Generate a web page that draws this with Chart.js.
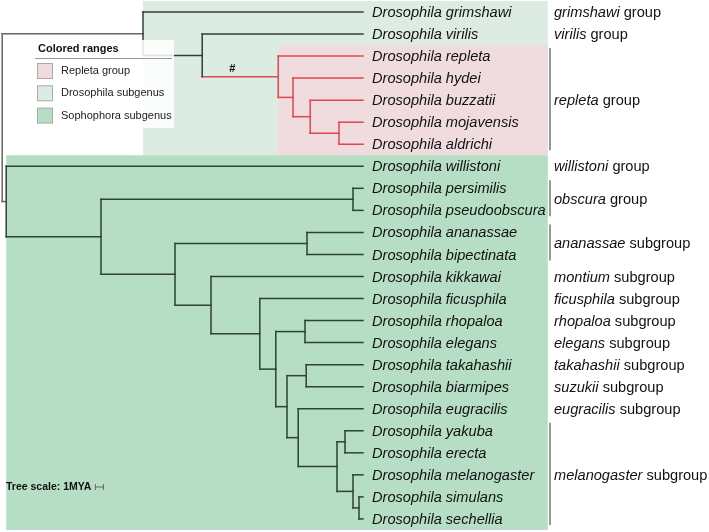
<!DOCTYPE html>
<html>
<head>
<meta charset="utf-8">
<script src="https://cdn.jsdelivr.net/npm/chart.js@4.4.0/dist/chart.umd.min.js"></script>
<style>
  body { margin: 0; background: #fff; }
  canvas { display: block; }
</style>
</head>
<body>
<canvas id="tree" width="709" height="532"></canvas>
<script>
// leaves, top to bottom (leaf i sits at row i)
const species = [
  'Drosophila grimshawi', 'Drosophila virilis', 'Drosophila repleta', 'Drosophila hydei',
  'Drosophila buzzatii', 'Drosophila mojavensis', 'Drosophila aldrichi', 'Drosophila willistoni',
  'Drosophila persimilis', 'Drosophila pseudoobscura', 'Drosophila ananassae', 'Drosophila bipectinata',
  'Drosophila kikkawai', 'Drosophila ficusphila', 'Drosophila rhopaloa', 'Drosophila elegans',
  'Drosophila takahashii', 'Drosophila biarmipes', 'Drosophila eugracilis', 'Drosophila yakuba',
  'Drosophila erecta', 'Drosophila melanogaster', 'Drosophila simulans', 'Drosophila sechellia'
];

// internal nodes get ids 24, 25, ... in this order (children always listed before parents)
const nodeChildren = [
  [22, 23], [21, 24], [19, 20], [26, 25], [18, 27], [16, 17], [29, 28], [14, 15],
  [31, 30], [13, 32], [12, 33], [10, 11], [35, 34], [8, 9], [37, 36], [7, 38],
  [5, 6], [4, 40], [3, 41], [2, 42], [1, 43], [0, 44], [45, 39]
];
// node ages, million years ago
const nodeAges = [
  0.5, 1.25, 2.25, 3.25, 8.1, 7.1, 9.5, 7.25,
  10.9, 12.9, 19.0, 7.0, 23.5, 1.25, 32.75, 44.6,
  3.0, 6.6, 8.75, 10.6, 20.1, 27.5, 45.1
];
const rootNode = 46;
const redNode = 43; // repleta clade branches in red

// colored ranges
const rangeNames = ['Repleta group', 'Drosophila subgenus', 'Sophophora subgenus'];
const rangeColors = ['#f0dcde', '#dcece2', '#b5dec4'];
const rangeNodes = [43, 45, 39];
const rangeDrawOrder = [1, 0, 2];

// group labels on the right
const groupNames = ['grimshawi', 'virilis', 'repleta', 'willistoni', 'obscura', 'ananassae', 'montium',
  'ficusphila', 'rhopaloa', 'elegans', 'takahashii', 'suzukii', 'eugracilis', 'melanogaster'];
const groupRanks = ['group', 'group', 'group', 'group', 'group', 'subgroup', 'subgroup',
  'subgroup', 'subgroup', 'subgroup', 'subgroup', 'subgroup', 'subgroup', 'subgroup'];
const groupFirst = [0, 1, 2, 7, 8, 10, 12, 13, 14, 15, 16, 17, 18, 19];
const groupLast = [0, 1, 6, 7, 9, 11, 12, 13, 14, 15, 16, 17, 18, 23];

const scaleLabel = 'Tree scale: 1MYA';

// ---- derive node positions ----
const nLeaves = species.length;
const age = [], row = [], firstLeaf = [], lastLeaf = [];
for (let i = 0; i < nLeaves; i++) { age[i] = 0; row[i] = i; firstLeaf[i] = i; lastLeaf[i] = i; }
nodeChildren.forEach((kids, k) => {
  const id = nLeaves + k;
  age[id] = nodeAges[k];
  row[id] = (row[kids[0]] + row[kids[kids.length - 1]]) / 2;
  firstLeaf[id] = firstLeaf[kids[0]];
  lastLeaf[id] = lastLeaf[kids[kids.length - 1]];
});

const isRed = (id) => firstLeaf[id] >= firstLeaf[redNode] && lastLeaf[id] <= lastLeaf[redNode] && id <= redNode;

const DARK = '#2f4235', RED = '#e0474c', GREY = '#666';

const datasets = [];
const seg = (x1, y1, x2, y2, color) => datasets.push({
  data: [{ x: x1, y: y1 }, { x: x2, y: y2 }],
  showLine: true, borderColor: color, borderWidth: 1.5, pointRadius: 0,
  borderCapStyle: 'square'
});

nodeChildren.forEach((kids, k) => {
  const id = nLeaves + k;
  const vColor = id === rootNode ? GREY : (isRed(id) ? RED : DARK);
  seg(age[id], row[kids[0]], age[id], row[kids[kids.length - 1]], vColor);
  kids.forEach(c => {
    const hColor = id === rootNode ? GREY : (isRed(c) ? RED : DARK);
    seg(age[id], row[c], age[c], row[c], hColor);
  });
});

const RANGE_END = -23.1; // right edge of the shaded ranges, in MYA units
const FONT = '"Liberation Sans", Arial, sans-serif';

const treePlugin = {
  id: 'treeDecor',
  beforeDatasetsDraw(chart) {
    const { ctx } = chart;
    const xs = chart.scales.x, ys = chart.scales.y;
    rangeDrawOrder.forEach(r => {
      const n = rangeNodes[r];
      const x1 = xs.getPixelForValue(age[n]);
      const x2 = xs.getPixelForValue(RANGE_END);
      const y1 = ys.getPixelForValue(firstLeaf[n] - 0.5);
      const y2 = ys.getPixelForValue(lastLeaf[n] + 0.5);
      ctx.fillStyle = rangeColors[r];
      ctx.fillRect(x1, y1, x2 - x1, y2 - y1);
    });
  },
  afterDatasetsDraw(chart) {
    const { ctx } = chart;
    const xs = chart.scales.x, ys = chart.scales.y;
    const tipX = xs.getPixelForValue(0);
    ctx.save();
    ctx.textBaseline = 'middle';

    // species names
    ctx.fillStyle = '#111';
    ctx.font = 'italic 14.6px ' + FONT;
    species.forEach((s, i) => ctx.fillText(s, tipX + 9, ys.getPixelForValue(i) + 1));

    // group labels and brackets
    const gx = tipX + 191;
    groupNames.forEach((g, i) => {
      const y = ys.getPixelForValue((groupFirst[i] + groupLast[i]) / 2) + 1;
      ctx.fillStyle = '#111';
      ctx.font = 'italic 14.6px ' + FONT;
      ctx.fillText(g, gx, y);
      const w = ctx.measureText(g + ' ').width;
      ctx.font = '14.6px ' + FONT;
      ctx.fillText(groupRanks[i], gx + w, y);
      if (groupLast[i] > groupFirst[i]) {
        ctx.strokeStyle = '#777';
        ctx.lineWidth = 1.5;
        ctx.beginPath();
        ctx.moveTo(gx - 4, ys.getPixelForValue(groupFirst[i]) - 8);
        ctx.lineTo(gx - 4, ys.getPixelForValue(groupLast[i]) + 6);
        ctx.stroke();
      }
    });

    // '#' mark on the repleta stem
    ctx.fillStyle = '#111';
    ctx.font = 'bold 11px ' + FONT;
    ctx.fillText('#', xs.getPixelForValue(age[44]) + 27, ys.getPixelForValue(row[redNode]) - 8);

    // tree scale
    ctx.font = 'bold 10.5px ' + FONT;
    const sy = 487;
    ctx.fillText(scaleLabel, 6, sy);
    const sx = 6 + ctx.measureText(scaleLabel).width + 4;
    const len = xs.getPixelForValue(0) - xs.getPixelForValue(1);
    ctx.strokeStyle = '#666';
    ctx.lineWidth = 1;
    ctx.beginPath();
    ctx.moveTo(sx, sy); ctx.lineTo(sx + len, sy);
    ctx.moveTo(sx, sy - 3); ctx.lineTo(sx, sy + 3);
    ctx.moveTo(sx + len, sy - 3); ctx.lineTo(sx + len, sy + 3);
    ctx.stroke();

    // legend box
    ctx.fillStyle = 'rgba(255,255,255,0.86)';
    ctx.fillRect(33, 40, 141, 88);
    ctx.fillStyle = '#111';
    ctx.font = 'bold 11px ' + FONT;
    ctx.fillText('Colored ranges', 38, 49);
    ctx.strokeStyle = '#999';
    ctx.beginPath();
    ctx.moveTo(35, 58.5); ctx.lineTo(172, 58.5);
    ctx.stroke();
    ctx.font = '11px ' + FONT;
    rangeNames.forEach((name, i) => {
      const cy = 71 + i * 22.3;
      ctx.fillStyle = rangeColors[i];
      ctx.fillRect(37.5, cy - 7.5, 15, 15);
      ctx.strokeStyle = '#aaa';
      ctx.strokeRect(37.5, cy - 7.5, 15, 15);
      ctx.fillStyle = '#222';
      ctx.fillText(name, 61, cy);
    });
    ctx.restore();
  }
};

new Chart(document.getElementById('tree'), {
  type: 'scatter',
  data: { datasets },
  options: {
    responsive: false,
    animation: false,
    layout: { padding: 0 },
    plugins: { legend: { display: false }, tooltip: { enabled: false } },
    scales: {
      x: { type: 'linear', reverse: true, min: -43.25, max: 45.375, display: false },
      y: { type: 'linear', reverse: true, min: -0.5445, max: 23.593, display: false }
    }
  },
  plugins: [treePlugin]
});
</script>
</body>
</html>
